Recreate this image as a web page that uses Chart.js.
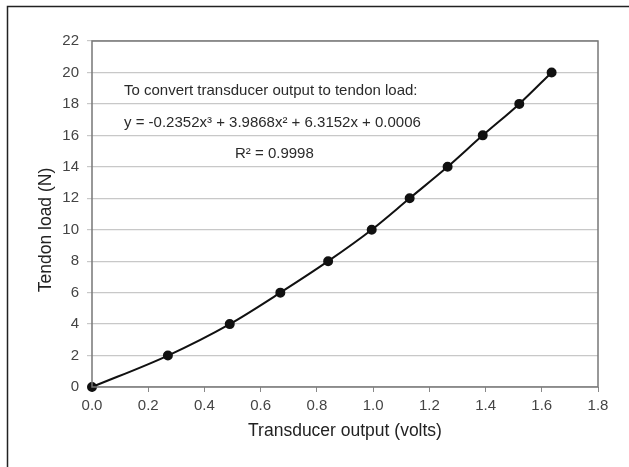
<!DOCTYPE html>
<html>
<head>
<meta charset="utf-8">
<script src="https://cdn.jsdelivr.net/npm/chart.js@4/dist/chart.umd.min.js"></script>
<style>
  html, body { margin: 0; padding: 0; background: #fff; }
  #wrap { width: 629px; height: 467px; }
</style>
</head>
<body>
<div id="wrap"><canvas id="chartCanvas" width="629" height="467"></canvas></div>
<script>
var outputVolts = [0.0, 0.27, 0.49, 0.67, 0.84, 0.995, 1.13, 1.265, 1.39, 1.52, 1.635];
var tendonLoad = [0, 2, 4, 6, 8, 10, 12, 14, 16, 18, 20];
var noteLines = [
  "To convert transducer output to tendon load:",
  "y = -0.2352x\u00b3 + 3.9868x\u00b2 + 6.3152x + 0.0006",
  "R\u00b2 = 0.9998"
];
var yTitle = "Tendon load (N)";

var fontFam = "'Liberation Sans', Arial, sans-serif";

var points = outputVolts.map(function (v, i) {
  return { x: v, y: tendonLoad[i] };
});

// outer frame, notes, y title
var decorPlugin = {
  id: "decor",
  beforeDraw: function (chart) {
    var c = chart.ctx;
    c.save();
    c.fillStyle = "#fff";
    c.fillRect(0, 0, chart.width, chart.height);
    c.strokeStyle = "#222";
    c.lineWidth = 1.5;
    c.beginPath();
    c.moveTo(7.5, 467);
    c.lineTo(7.5, 6.5);
    c.lineTo(629, 6.5);
    c.stroke();
    // y axis title (sits a bit below the middle in the original)
    c.translate(46, 230);
    c.rotate(-Math.PI / 2);
    c.fillStyle = "#222";
    c.font = "17.5px " + fontFam;
    c.textAlign = "center";
    c.textBaseline = "middle";
    c.fillText(yTitle, 0, 0);
    c.restore();
  },
  afterDatasetsDraw: function (chart) {
    var c = chart.ctx;
    c.save();
    c.fillStyle = "#2a2a2a";
    c.font = "15px " + fontFam;
    c.textBaseline = "middle";
    c.fillText(noteLines[0], 124, 91);
    c.fillText(noteLines[1], 124, 123);
    c.fillText(noteLines[2], 235, 154);
    c.restore();
  },
  afterDraw: function (chart) {
    var a = chart.chartArea;
    var c = chart.ctx;
    c.save();
    c.strokeStyle = "#777";
    c.lineWidth = 1.5;
    c.strokeRect(a.left, a.top, a.right - a.left, a.bottom - a.top);
    c.restore();
  }
};

var ctx = document.getElementById("chartCanvas");
var calibChart = new Chart(ctx, {
  type: "scatter",
  data: {
    datasets: [
      {
        label: "Calibration",
        data: points,
        showLine: true,
        clip: false,
        cubicInterpolationMode: "monotone",
        borderColor: "#111",
        borderWidth: 2,
        backgroundColor: "#111",
        pointRadius: 4,
        pointHoverRadius: 4
      }
    ]
  },
  options: {
    responsive: false,
    animation: false,
    layout: { padding: { left: 0, top: 41, right: 31, bottom: 0 } },
    plugins: {
      legend: { display: false },
      tooltip: { enabled: false }
    },
    scales: {
      x: {
        type: "linear",
        min: 0,
        max: 1.8,
        ticks: {
          stepSize: 0.2,
          color: "#444",
          font: { size: 15, family: fontFam },
          padding: 5,
          callback: function (v) { return v.toFixed(1); }
        },
        grid: { display: true, drawOnChartArea: false, drawTicks: true, tickLength: 5, color: "#888" },
        border: { display: false },
        title: {
          display: true,
          text: "Transducer output (volts)",
          color: "#222",
          font: { size: 17.5, family: fontFam },
          padding: { top: 0, bottom: 25 }
        },
        afterFit: function (s) { s.height = 80; }
      },
      y: {
        type: "linear",
        min: 0,
        max: 22,
        ticks: {
          stepSize: 2,
          color: "#444",
          font: { size: 15, family: fontFam },
          padding: 8
        },
        grid: { color: "#c8c8c8", lineWidth: 1.2, tickLength: 5, drawTicks: true },
        border: { display: false },
        title: { display: false },
        afterFit: function (s) { s.width = 92; }
      }
    }
  },
  plugins: [decorPlugin]
});
</script>
</body>
</html>
